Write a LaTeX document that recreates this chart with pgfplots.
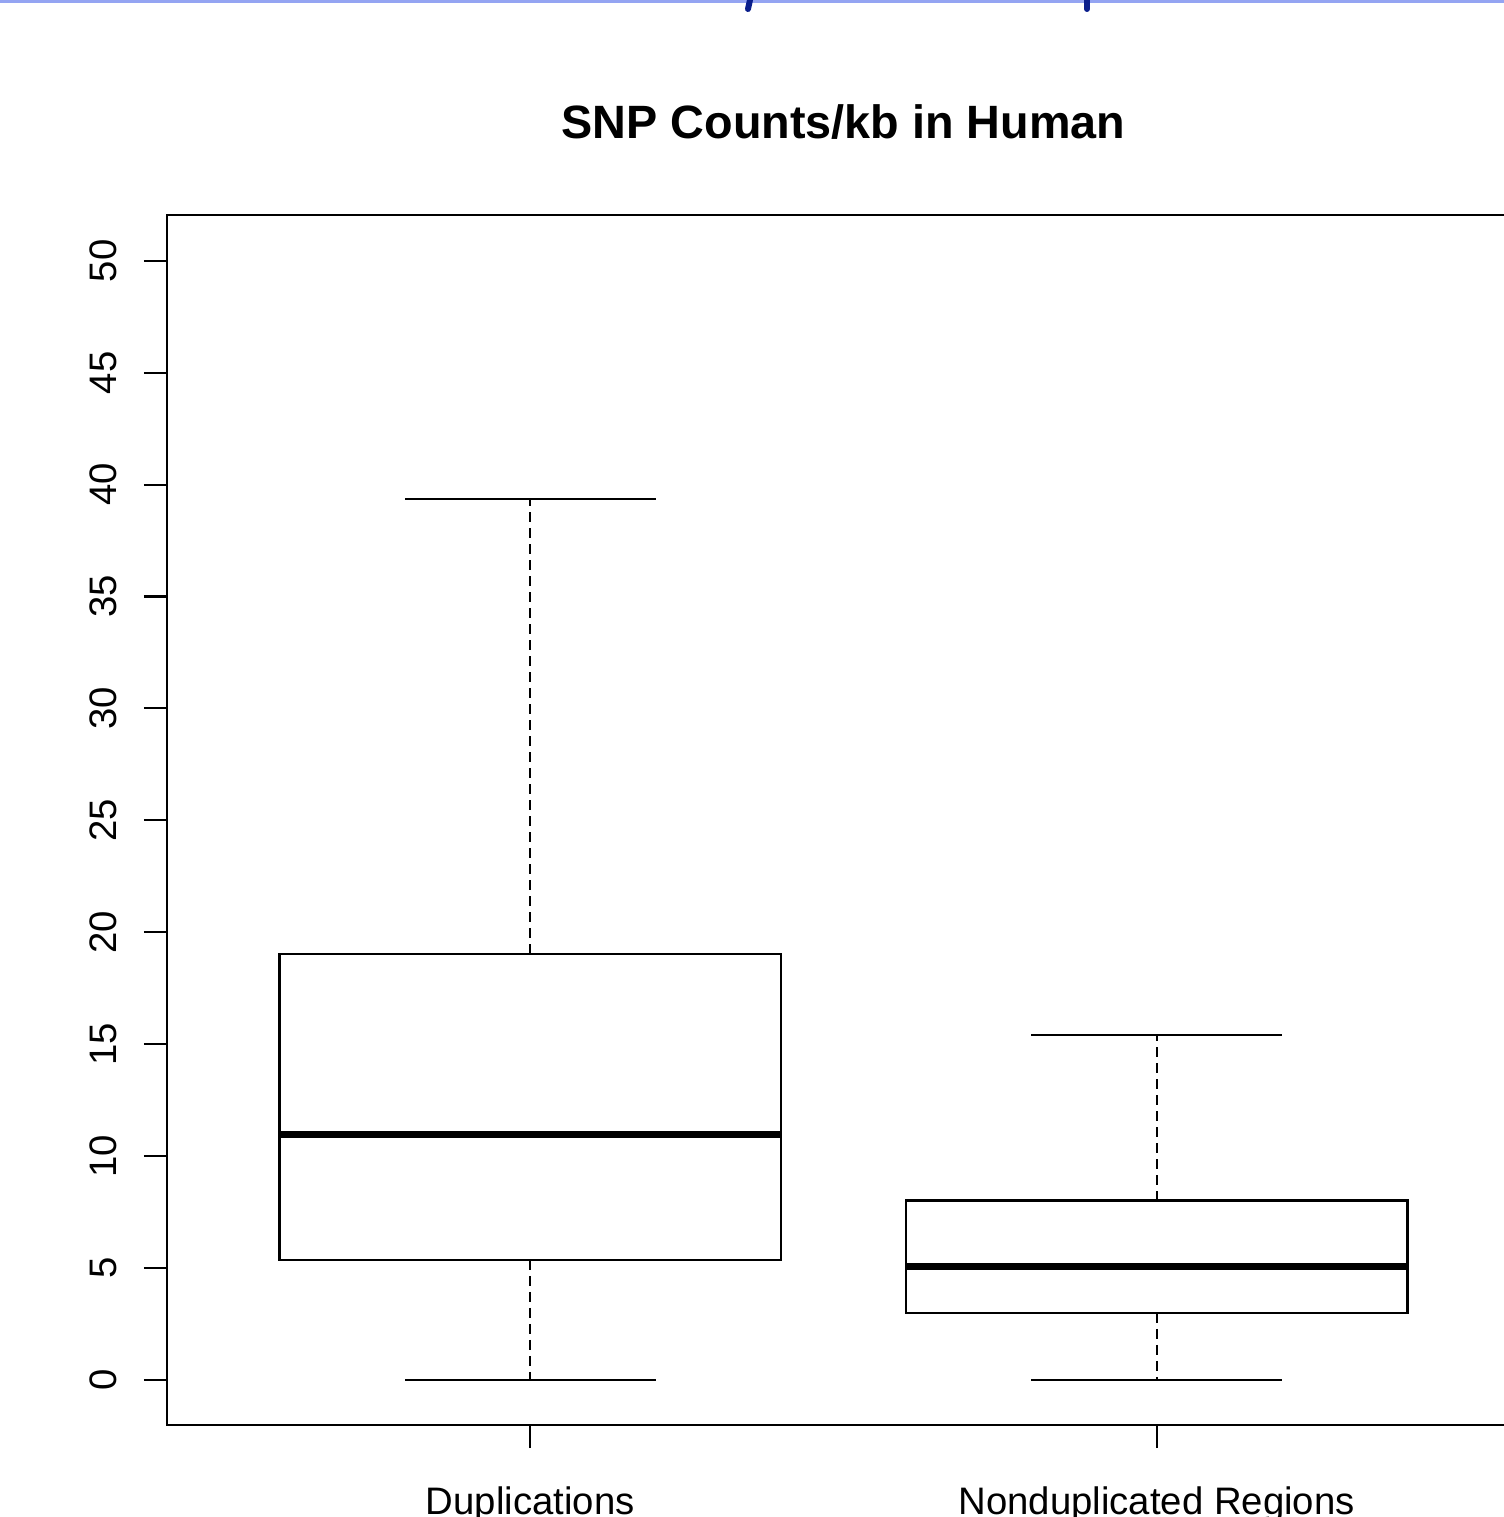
\documentclass[border=0pt]{standalone}
\usepackage{pgfplots}
\pgfplotsset{compat=1.18}
\usepgfplotslibrary{statistics}
\usepackage{fontspec}
\setmainfont{Liberation Sans}
\definecolor{bandblue}{HTML}{94A4F2}
\definecolor{titleblue}{HTML}{0A1E8C}
\begin{document}
\begin{tikzpicture}
\useasboundingbox (0,0) rectangle (15.04cm,15.17cm);
\clip (0,0) rectangle (15.04cm,15.17cm);
\fill[bandblue] (0,15.14cm) rectangle (15.04cm,15.17cm);
\draw[titleblue, line width=0.06cm, line cap=round] (7.50cm,15.17cm) -- (7.48cm,15.08cm);
\draw[titleblue, line width=0.06cm, line cap=round] (10.87cm,15.17cm) -- (10.87cm,15.08cm);
\begin{axis}[
  at={(1.67cm,0.92cm)}, anchor=south west,
  scale only axis, width=13.53cm, height=12.10cm,
  xmin=0.42, xmax=2.58, ymin=-2.02, ymax=52.05,
  axis line style={line width=0.6pt},
  every tick/.style={black, line width=0.6pt},
  tick align=outside, major tick length=0.23cm,
  xtick pos=bottom, ytick pos=left,
  xtick={1,2}, xticklabels={Duplications, Nonduplicated Regions},
  ytick={0,5,...,50},
  /pgf/number format/assume math mode=true,
  tick label style={font=\fontsize{10.9pt}{12pt}\selectfont, inner sep=0pt},
  yticklabel style={xshift=-0.26cm, rotate=90, anchor=south},
  xticklabel style={yshift=-0.66cm, anchor=base},
  title={SNP Counts/kb in Human},
  title style={font=\fontsize{13.3pt}{15pt}\selectfont\bfseries, anchor=base, at={(0.5,1)}, yshift=0.55cm, inner sep=0pt},
  boxplot/draw direction=y,
  boxplot/box extend=0.8,
  boxplot/whisker extend=0.4,
  boxplot/every box/.style={line width=0.75pt},
  boxplot/every median/.style={line width=2pt},
  boxplot/draw/whisker/.code 2 args={%
    \draw[line width=0.6pt, dash pattern=on 0.1cm off 0.06cm]
      (boxplot cs:#1) -- (boxplot cs:#2);
    \draw[line width=0.6pt]
      (boxplot whisker cs:#2,0) -- (boxplot whisker cs:#2,1);
  },
]
\addplot+[black, solid, boxplot prepared={
  draw position=1,
  lower whisker=0, lower quartile=5.36, median=10.95,
  upper quartile=19.03, upper whisker=39.37}]
  coordinates {};
\addplot+[black, solid, boxplot prepared={
  draw position=2,
  lower whisker=0, lower quartile=2.99, median=5.05,
  upper quartile=8.0, upper whisker=15.42}]
  coordinates {};
\end{axis}
\end{tikzpicture}
\end{document}
